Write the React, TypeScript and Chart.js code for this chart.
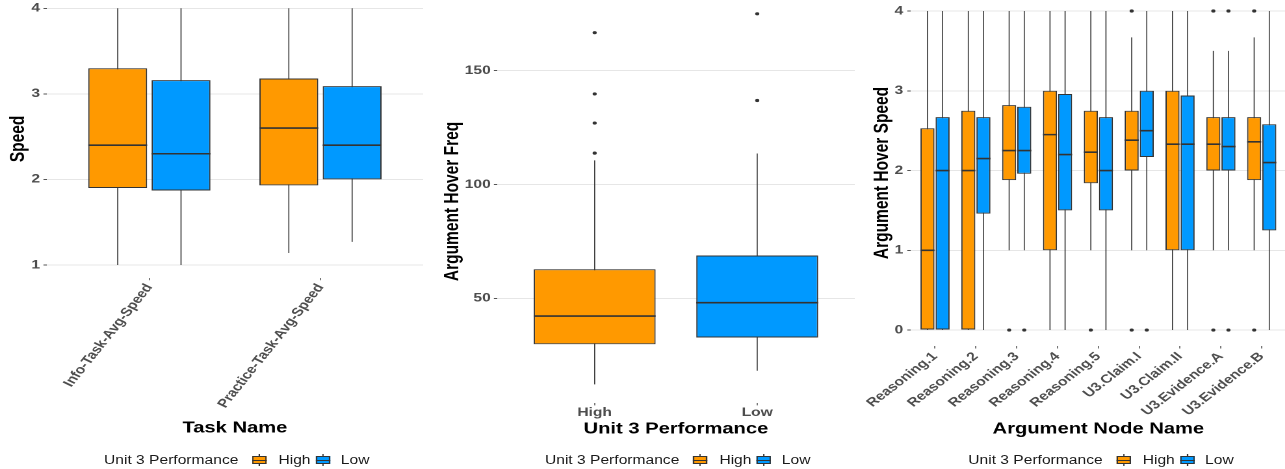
import React, { useEffect, useRef } from "react";
import { Chart, registerables } from "chart.js";

Chart.register(...registerables);

// The figure is laid out on a narrower canvas and widened horizontally.
const STRETCH = 1.3;
const FONT = '"Liberation Sans", Arial, Helvetica, sans-serif';
const HIGH_FILL = "#FF9900";
const LOW_FILL = "#0099FF";
const EDGE = "#333333";
const AXIS_TEXT = "#4d4d4d";
const GRID = "#e6e6e6";
const TICK = "#555555";

// Each summary row: [lower whisker, Q1, median, Q3, upper whisker]
const TASKS = ["Info-Task-Avg-Speed", "Practice-Task-Avg-Speed"];
const speedHigh = [
  [1.0, 1.9, 2.4, 3.3, 4.0],
  [1.14, 1.93, 2.6, 3.18, 4.0],
];
const speedLow = [
  [1.0, 1.87, 2.3, 3.16, 4.0],
  [1.27, 2.0, 2.4, 3.09, 4.0],
];
const speedHighOut: number[][] = [[], []];
const speedLowOut: number[][] = [[], []];
const speedTicks = [1, 2, 3, 4];

const PERFORMANCE = ["High", "Low"];
const hoverFreq = [
  [12.2, 29.8, 42.2, 62.8, 110.6],
  [18.2, 32.8, 48.1, 68.8, 113.6],
];
const hoverFreqOut = [
  [113.8, 127, 139.8, 166.7],
  [136.9, 175],
];
const freqTicks = [50, 100, 150];

const NODES = [
  "Reasoning.1",
  "Reasoning.2",
  "Reasoning.3",
  "Reasoning.4",
  "Reasoning.5",
  "U3.Claim.I",
  "U3.Claim.II",
  "U3.Evidence.A",
  "U3.Evidence.B",
];
const nodeSpeedHigh = [
  [0, 0, 1.0, 2.53, 4],
  [0, 0, 2.0, 2.75, 4],
  [1, 1.88, 2.25, 2.82, 4],
  [0, 1.0, 2.45, 3.0, 4],
  [1, 1.84, 2.23, 2.75, 4],
  [1, 2.0, 2.38, 2.75, 3.67],
  [0, 1.0, 2.33, 3.0, 4],
  [1, 2.0, 2.33, 2.67, 3.5],
  [1, 1.88, 2.36, 2.67, 3.67],
];
const nodeSpeedHighOut = [[], [], [0], [], [0], [0, 4], [], [0, 4], [0, 4]];
const nodeSpeedLow = [
  [0, 0, 2.0, 2.67, 4],
  [0, 1.46, 2.15, 2.67, 4],
  [1, 1.96, 2.25, 2.8, 4],
  [0, 1.5, 2.2, 2.96, 4],
  [0, 1.5, 2.0, 2.67, 4],
  [1, 2.17, 2.5, 3.0, 4],
  [0, 1.0, 2.33, 2.94, 4],
  [1, 2.0, 2.3, 2.67, 3.5],
  [0, 1.25, 2.1, 2.58, 4],
];
const nodeSpeedLowOut = [[], [], [0], [], [], [0], [], [0, 4], []];
const nodeTicks = [0, 1, 2, 3, 4];

const LEGEND_TITLE = "Unit 3 Performance";
const GROUPS = ["High", "Low"];

type Series = {
  label: string;
  color: string | string[];
  stats: number[][];
  outliers: number[][];
};

// Whiskers behind the boxes; medians and outlier dots on top.
function boxplotMarks(series: Series[]) {
  const eachBox = (chart: any, fn: (bar: any, st: number[], out: number[]) => void) =>
    series.forEach((s, di) => {
      const meta = chart.getDatasetMeta(di);
      meta.data.forEach((bar: any, j: number) => fn(bar, s.stats[j], s.outliers[j] || []));
    });
  const clip = (chart: any) => {
    const a = chart.chartArea;
    chart.ctx.beginPath();
    chart.ctx.rect(a.left, a.top - 2, a.right - a.left, a.bottom - a.top + 4);
    chart.ctx.clip();
  };
  return {
    id: "boxplotMarks",
    beforeDatasetsDraw(chart: any) {
      const { ctx } = chart;
      const y = chart.scales.y;
      ctx.save();
      clip(chart);
      ctx.strokeStyle = EDGE;
      ctx.lineWidth = 0.8;
      eachBox(chart, (bar, st) => {
        ctx.beginPath();
        ctx.moveTo(bar.x, y.getPixelForValue(st[0]));
        ctx.lineTo(bar.x, y.getPixelForValue(st[4]));
        ctx.stroke();
      });
      ctx.restore();
    },
    afterDatasetsDraw(chart: any) {
      const { ctx } = chart;
      const y = chart.scales.y;
      ctx.save();
      clip(chart);
      ctx.strokeStyle = EDGE;
      ctx.lineWidth = 1.6;
      eachBox(chart, (bar, st) => {
        const py = y.getPixelForValue(st[2]);
        ctx.beginPath();
        ctx.moveTo(bar.x - bar.width / 2, py);
        ctx.lineTo(bar.x + bar.width / 2, py);
        ctx.stroke();
      });
      ctx.fillStyle = EDGE;
      eachBox(chart, (bar, _st, out) => {
        out.forEach((v) => {
          ctx.beginPath();
          ctx.arc(bar.x, y.getPixelForValue(v), 1.6, 0, Math.PI * 2);
          ctx.fill();
        });
      });
      ctx.restore();
    },
  };
}

type PanelSpec = {
  categories: string[];
  series: Series[];
  yMin: number;
  yMax: number;
  yTicks: number[];
  yTitle: string;
  xTitle: string;
  yAxisWidth: number;
  yTitlePad: number;
  yLabelPad: number;
  xAxisHeight: number;
  xLabelPad: number;
  rotation: number;
  padRight: number;
  padBottom: number;
  categoryPercentage: number;
  barPercentage: number;
};

function boxplotConfig(p: PanelSpec): any {
  const n = p.categories.length;
  const tickFont = { family: FONT, size: 12, weight: "bold" as const };
  const titleFont = { family: FONT, size: 15.5, weight: "bold" as const };
  return {
    type: "bar",
    data: {
      datasets: p.series.map((s) => ({
        label: s.label,
        data: s.stats.map((st, i) => ({ x: i + 1, y: [st[1], st[3]] })),
        backgroundColor: s.color,
        borderColor: EDGE,
        borderWidth: 1,
        borderSkipped: false,
        categoryPercentage: p.categoryPercentage,
        barPercentage: p.barPercentage,
      })),
    },
    plugins: [boxplotMarks(p.series)],
    options: {
      animation: false,
      responsive: true,
      maintainAspectRatio: false,
      devicePixelRatio: 2,
      events: [],
      layout: { padding: { left: 0, top: 0, right: p.padRight, bottom: p.padBottom } },
      plugins: {
        legend: { display: false },
        tooltip: { enabled: false },
      },
      scales: {
        x: {
          type: "linear",
          min: 0.4,
          max: n + 0.6,
          bounds: "data",
          offset: false,
          afterBuildTicks: (s: any) => {
            s.ticks = p.categories.map((_, i) => ({ value: i + 1 }));
          },
          afterFit: (s: any) => {
            s.height = p.xAxisHeight;
            s.paddingLeft = 0;
            s.paddingRight = 0;
          },
          ticks: {
            autoSkip: false,
            minRotation: p.rotation,
            maxRotation: p.rotation,
            padding: p.xLabelPad,
            color: AXIS_TEXT,
            font: tickFont,
            callback: (v: number) => p.categories[Math.round(v) - 1] ?? "",
          },
          grid: {
            offset: false,
            drawOnChartArea: false,
            drawTicks: true,
            tickLength: 2.5,
            tickColor: TICK,
            tickWidth: 0.8,
          },
          border: { display: false },
          title: {
            display: true,
            text: p.xTitle,
            color: "#000000",
            font: titleFont,
            padding: { top: 0, bottom: 0 },
          },
        },
        y: {
          type: "linear",
          min: p.yMin,
          max: p.yMax,
          bounds: "data",
          beginAtZero: false,
          afterBuildTicks: (s: any) => {
            s.ticks = p.yTicks.map((v) => ({ value: v }));
          },
          afterFit: (s: any) => {
            s.width = p.yAxisWidth;
            s.paddingTop = 0;
            s.paddingBottom = 0;
          },
          ticks: {
            padding: p.yLabelPad,
            color: AXIS_TEXT,
            font: tickFont,
            callback: (v: number) => String(v),
          },
          grid: {
            color: GRID,
            lineWidth: 1,
            drawTicks: true,
            tickLength: 2.5,
            tickColor: TICK,
            tickWidth: 1,
          },
          border: { display: false },
          title: {
            display: true,
            text: p.yTitle,
            color: "#000000",
            font: titleFont,
            padding: { top: p.yTitlePad, bottom: 0 },
          },
        },
      },
    },
  };
}

function ChartPanel({ left, width, spec }: { left: number; width: number; spec: PanelSpec }) {
  const ref = useRef<HTMLCanvasElement>(null);
  useEffect(() => {
    if (!ref.current) return;
    const chart = new Chart(ref.current, boxplotConfig(spec));
    return () => chart.destroy();
  }, []);
  return (
    <div style={{ position: "absolute", left, top: 0, width, height: 469 }}>
      <canvas ref={ref} style={{ display: "block" }} />
    </div>
  );
}

function LegendKey({ left, color }: { left: number; color: string }) {
  return (
    <div style={{ position: "absolute", left, top: 1, width: 11.2, height: 12 }}>
      <div style={{ position: "absolute", left: 5.2, top: 0, width: 0.8, height: 12, background: EDGE }} />
      <div
        style={{
          position: "absolute",
          left: 0,
          top: 2,
          width: 11.2,
          height: 8.3,
          boxSizing: "border-box",
          border: `1px solid ${EDGE}`,
          background: color,
        }}
      />
      <div style={{ position: "absolute", left: 0, top: 5.7, width: 11.2, height: 1, background: EDGE }} />
    </div>
  );
}

function Legend({ left }: { left: number }) {
  const text = { position: "absolute" as const, top: 0, lineHeight: "14px", whiteSpace: "nowrap" as const };
  return (
    <div
      style={{
        position: "absolute",
        left,
        top: 453,
        height: 14,
        fontFamily: FONT,
        fontSize: 12,
        color: "#1a1a1a",
      }}
    >
      <span style={{ ...text, left: 0 }}>{LEGEND_TITLE}</span>
      <LegendKey left={114} color={HIGH_FILL} />
      <span style={{ ...text, left: 134.2 }}>{GROUPS[0]}</span>
      <LegendKey left={163} color={LOW_FILL} />
      <span style={{ ...text, left: 182.2 }}>{GROUPS[1]}</span>
    </div>
  );
}

const speedPanel: PanelSpec = {
  categories: TASKS,
  series: [
    { label: GROUPS[0], color: HIGH_FILL, stats: speedHigh, outliers: speedHighOut },
    { label: GROUPS[1], color: LOW_FILL, stats: speedLow, outliers: speedLowOut },
  ],
  yMin: 0.85,
  yMax: 4.097,
  yTicks: speedTicks,
  yTitle: "Speed",
  xTitle: "Task Name",
  yAxisWidth: 35.9,
  yTitlePad: 4.8,
  yLabelPad: 2.6,
  xAxisHeight: 159.5,
  xLabelPad: 1,
  rotation: 58,
  padRight: 5.5,
  padBottom: 31.7,
  categoryPercentage: 0.74,
  barPercentage: 0.93,
};

const freqPanel: PanelSpec = {
  categories: PERFORMANCE,
  series: [
    { label: "Argument Hover Freq", color: [HIGH_FILL, LOW_FILL], stats: hoverFreq, outliers: hoverFreqOut },
  ],
  yMin: 4.06,
  yMax: 181.06,
  yTicks: freqTicks,
  yTitle: "Argument Hover Freq",
  xTitle: "Unit 3 Performance",
  yAxisWidth: 51.4,
  yTitlePad: 7.9,
  yLabelPad: 2.4,
  xAxisHeight: 35.4,
  xLabelPad: 0.3,
  rotation: 0,
  padRight: 0.5,
  padBottom: 30.7,
  categoryPercentage: 0.75,
  barPercentage: 1,
};

const nodePanel: PanelSpec = {
  categories: NODES,
  series: [
    { label: GROUPS[0], color: HIGH_FILL, stats: nodeSpeedHigh, outliers: nodeSpeedHighOut },
    { label: GROUPS[1], color: LOW_FILL, stats: nodeSpeedLow, outliers: nodeSpeedLowOut },
  ],
  yMin: -0.2,
  yMax: 4.138,
  yTicks: nodeTicks,
  yTitle: "Argument Hover Speed",
  xTitle: "Argument Node Name",
  yAxisWidth: 42.4,
  yTitlePad: 11.2,
  yLabelPad: 3.1,
  xAxisHeight: 92.3,
  xLabelPad: 1,
  rotation: 45,
  padRight: 0.6,
  padBottom: 30.7,
  categoryPercentage: 0.74,
  barPercentage: 0.93,
};

export default function App() {
  return (
    <div
      style={{
        position: "absolute",
        left: 0,
        top: 0,
        width: 1285,
        height: 469,
        overflow: "hidden",
        background: "#ffffff",
      }}
    >
      <div
        style={{
          position: "absolute",
          left: 0,
          top: 0,
          width: 989,
          height: 469,
          transform: `scaleX(${STRETCH})`,
          transformOrigin: "0 0",
        }}
      >
        <ChartPanel left={0} width={331} spec={speedPanel} />
        <ChartPanel left={331} width={327} spec={freqPanel} />
        <ChartPanel left={658} width={332} spec={nodePanel} />
        <Legend left={80} />
        <Legend left={419.2} />
        <Legend left={744.8} />
      </div>
    </div>
  );
}
